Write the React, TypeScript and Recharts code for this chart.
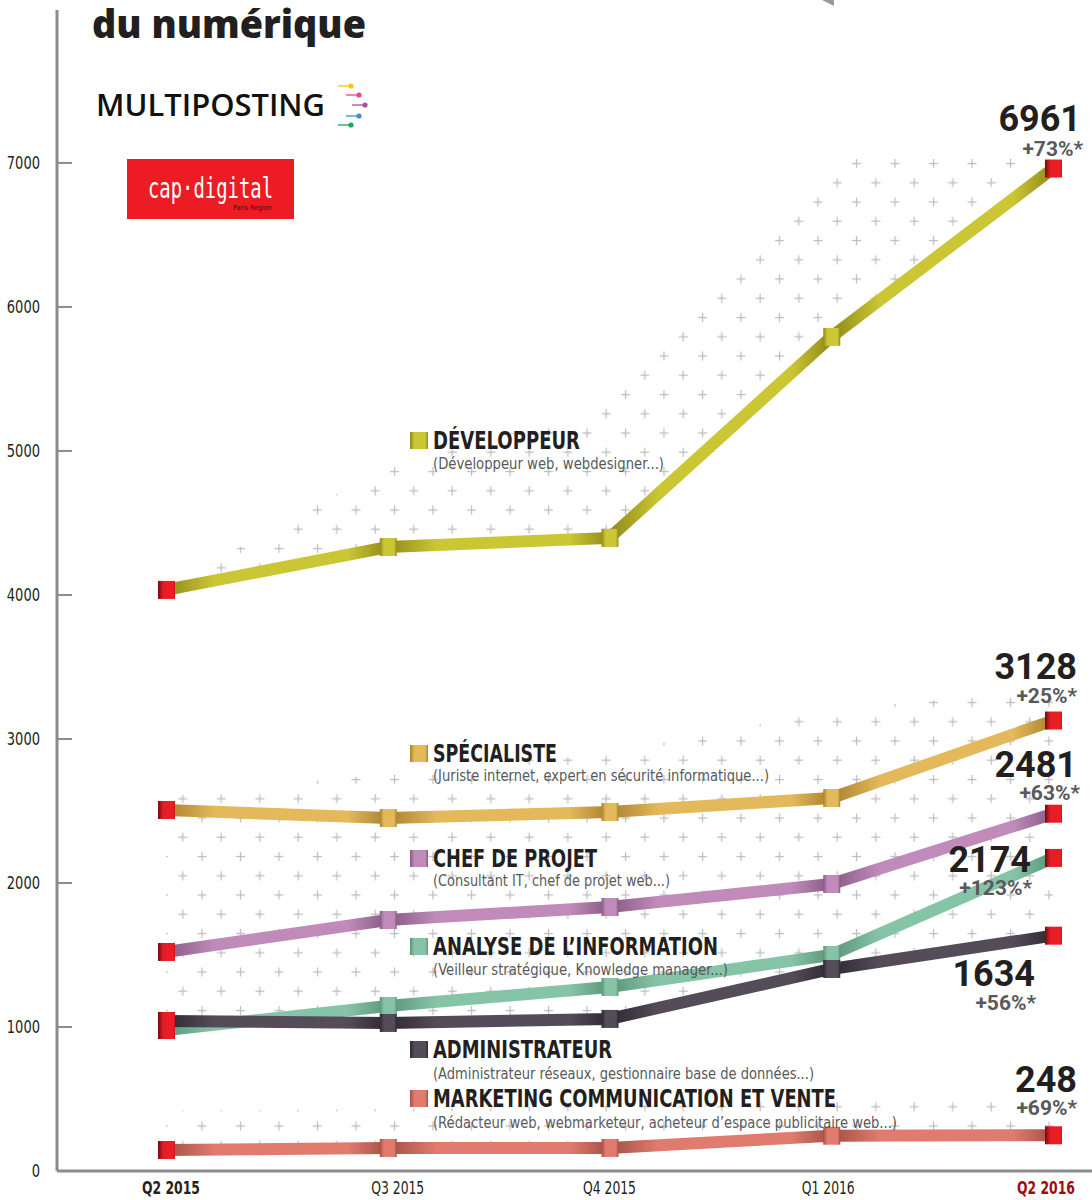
import React from 'react';
import { ComposedChart, Line, Area, XAxis, YAxis, LabelList } from 'recharts';

// ---------- data ----------
const quarters = ['Q2 2015', 'Q3 2015', 'Q4 2015', 'Q1 2016', 'Q2 2016'];
const developpeur = [4035, 4333, 4396, 5792, 6961];
const specialiste = [2507, 2451, 2493, 2590, 3128];
const chefDeProjet = [1521, 1743, 1833, 1993, 2481];
const analyseInfo = [979, 1146, 1278, 1500, 2174];
const administrateur = [1042, 1028, 1056, 1403, 1634];
const marketing = [146, 160, 160, 245, 248];
const variations = ['+73%*', '+25%*', '+63%*', '+123%*', '+56%*', '+69%*'];
const yTicks = [0, 1000, 2000, 3000, 4000, 5000, 6000, 7000];
// decorative dotted zones (edges)
const devZoneTop = [4050, 4900, 5300, 7050, 7050];
const upperZoneTop = [2600, 2760, 2900, 3200, 3350];
const bottomZoneTop = [420, 430, 450, 520, 520];

const data = quarters.map((q, i) => ({
  quarter: q,
  dev: developpeur[i],
  spec: specialiste[i],
  chef: chefDeProjet[i],
  ana: analyseInfo[i],
  adm: administrateur[i],
  mkt: marketing[i],
  devZone: [developpeur[i], devZoneTop[i]],
  upZone: [administrateur[i], upperZoneTop[i]],
  botZone: [marketing[i], bottomZoneTop[i]],
}));

type S = {
  key: string; title: string; sub: string; color: string; dark: string;
  var: string; ndx: number; ndy: number; pdx: number; pdy: number;
  titleY: number; subY: number; titleW: number; subW: number;
};

const series: S[] = [
  { key: 'dev', title: 'DÉVELOPPEUR', sub: '(Développeur web, webdesigner...)', color: '#cbc634', dark: '#8f8a1a', var: variations[0], ndx: 28, ndy: -38, pdx: 30, pdy: -13, titleY: 449, subY: 469, titleW: 147, subW: 231 },
  { key: 'spec', title: 'SPÉCIALISTE', sub: '(Juriste internet, expert en sécurité informatique...)', color: '#e3b95b', dark: '#a9812e', var: variations[1], ndx: 24, ndy: -42, pdx: 24, pdy: -18, titleY: 762, subY: 781, titleW: 124, subW: 336 },
  { key: 'chef', title: 'CHEF DE PROJET', sub: '(Consultant IT, chef de projet web...)', color: '#c08bbb', dark: '#875a83', var: variations[2], ndx: 24, ndy: -37, pdx: 27, pdy: -14, titleY: 867, subY: 886, titleW: 164, subW: 237 },
  { key: 'ana', title: 'ANALYSE DE L’INFORMATION', sub: '(Veilleur stratégique, Knowledge manager...)', color: '#86c4a7', dark: '#5a9479', var: variations[3], ndx: -22, ndy: 14, pdx: -21, pdy: 37, titleY: 955, subY: 975, titleW: 285, subW: 295 },
  { key: 'adm', title: 'ADMINISTRATEUR', sub: '(Administrateur réseaux, gestionnaire base de données...)', color: '#544c58', dark: '#2e2831', var: variations[4], ndx: -18, ndy: 50, pdx: -17, pdy: 74, titleY: 1058, subY: 1079, titleW: 179, subW: 381 },
  { key: 'mkt', title: 'MARKETING COMMUNICATION ET VENTE', sub: '(Rédacteur web, webmarketeur,  acheteur d’espace publicitaire web...)', color: '#e17b6e', dark: '#a24f45', var: variations[5], ndx: 24, ndy: -43, pdx: 24, pdy: -20, titleY: 1107, subY: 1128, titleW: 403, subW: 464 },
];

const NARROW = "'Liberation Sans Narrow', 'DejaVu Sans Condensed', 'Roboto', sans-serif";
const AXIS = '#8c8c8e';
const xTickShift = [5, 10, 0, -3, -7];

const YTick = (props: any) => {
  const { x, y, payload } = props;
  const label = String(payload.value);
  return (
    <g>
      <line x1={x} x2={x + 15} y1={y} y2={y} stroke={AXIS} strokeWidth={2} />
      <text x={x - 17} y={y + 6} textAnchor="end" fontFamily={NARROW} fontSize={17} fill="#231f20"
        textLength={label.length * 8.3} lengthAdjust="spacingAndGlyphs">
        {label}
      </text>
    </g>
  );
};

const XTick = (props: any) => {
  const { x, y, payload, index } = props;
  const first = index === 0;
  const last = index === quarters.length - 1;
  const bold = first || last;
  return (
    <text x={x + (xTickShift[index] || 0)} y={y + 23} textAnchor="middle" fontFamily={NARROW} fontSize={17}
      fontWeight={bold ? 700 : 400} fill={last ? '#9d0b0f' : '#231f20'}
      textLength={bold ? 58 : 53} lengthAdjust="spacingAndGlyphs">
      {payload.value}
    </text>
  );
};

const makeDot = (s: S) => (props: any) => {
  const { cx, cy, index } = props;
  const red = index === 0 || index === quarters.length - 1;
  return (
    <rect key={`${s.key}-dot-${index}`} x={cx - 8} y={cy - 9} width={17} height={18}
      fill={red ? 'url(#mk-red)' : `url(#mk-${s.key})`} />
  );
};

const makeEndLabel = (s: S) => (props: any) => {
  const { x, y, index } = props;
  if (index !== quarters.length - 1) return null;
  return (
    <g key={`${s.key}-lbl`}>
      <text x={x + s.ndx} y={y + s.ndy} textAnchor="end" fontFamily="Roboto, sans-serif"
        fontWeight={700} fontSize={36} fill="#231f20">{props.value}</text>
      <text x={x + s.pdx} y={y + s.pdy} textAnchor="end" fontFamily="Roboto, sans-serif"
        fontWeight={700} fontSize={21} fill="#58595b">{s.var}</text>
    </g>
  );
};

export default function App() {
  return (
    <div style={{ position: 'absolute', left: 0, top: 0, width: 1092, height: 1200, background: '#fff' }}>
      <ComposedChart width={1092} height={1200} data={data}
        margin={{ top: 10, right: 0, bottom: 0, left: 0 }}>
        <defs>
          <pattern id="plus" width={38.5} height={38.5} patternUnits="userSpaceOnUse">
            <path d="M5 9.5h9M9.5 5v9M24.25 28.75h9M28.75 24.25v9" stroke="#bcbcbe" strokeWidth={1.2} fill="none" />
          </pattern>
          <linearGradient id="mk-red" x1="0" x2="1" y1="0" y2="0">
            <stop offset="0" stopColor="#6e0a0d" />
            <stop offset="0.3" stopColor="#e41e26" />
            <stop offset="0.9" stopColor="#ee1c25" />
            <stop offset="1" stopColor="#c4161d" />
          </linearGradient>
          {series.map((s) => (
            <React.Fragment key={s.key}>
              <linearGradient id={`ln-${s.key}`} x1="0" x2="0.25" y1="0" y2="0" spreadMethod="repeat">
                <stop offset="0" stopColor={s.dark} />
                <stop offset="0.22" stopColor={s.color} />
                <stop offset="0.82" stopColor={s.color} />
                <stop offset="1" stopColor={s.dark} />
              </linearGradient>
              <linearGradient id={`mk-${s.key}`} x1="0" x2="1" y1="0" y2="0">
                <stop offset="0" stopColor={s.dark} />
                <stop offset="0.25" stopColor={s.color} />
                <stop offset="0.85" stopColor={s.color} />
                <stop offset="1" stopColor={s.dark} />
              </linearGradient>
            </React.Fragment>
          ))}
        </defs>
        <XAxis dataKey="quarter" interval={0} padding={{ left: 109, right: 39 }} height={29}
          tickSize={0} tickMargin={0} tickLine={false} tick={<XTick />}
          axisLine={{ stroke: AXIS, strokeWidth: 3 }} />
        <YAxis width={57} domain={[0, 8062]} ticks={yTicks} tickSize={0} tickMargin={0}
          tickLine={false} tick={<YTick />} axisLine={{ stroke: AXIS, strokeWidth: 3 }} />
        <Area dataKey="devZone" type="linear" stroke="none" fill="url(#plus)" fillOpacity={1} isAnimationActive={false} dot={false} activeDot={false} />
        <Area dataKey="upZone" type="linear" stroke="none" fill="url(#plus)" fillOpacity={1} isAnimationActive={false} dot={false} activeDot={false} />
        <Area dataKey="botZone" type="linear" stroke="none" fill="url(#plus)" fillOpacity={1} isAnimationActive={false} dot={false} activeDot={false} />
        {series.map((s) => (
          <Line key={s.key} dataKey={s.key} type="linear" stroke={`url(#ln-${s.key})`} strokeWidth={12}
            isAnimationActive={false} dot={makeDot(s)} activeDot={false}>
            <LabelList dataKey={s.key} content={makeEndLabel(s)} />
          </Line>
        ))}
      </ComposedChart>

      <svg width={1092} height={1200} style={{ position: 'absolute', left: 0, top: 0, pointerEvents: 'none' }}>
        <polygon points="822,0 834,0 834,6" fill="#9a9a9c" />
        <text x={92} y={38} fontFamily="'Open Sans', sans-serif" fontWeight={800} fontSize={39}
          fill="#231f20" textLength={274} lengthAdjust="spacingAndGlyphs">du numérique</text>
        {/* MULTIPOSTING logo */}
        <text x={96} y={116} fontFamily="'Open Sans', sans-serif" fontWeight={600} fontSize={31}
          fill="#111" textLength={229} lengthAdjust="spacingAndGlyphs">MULTIPOSTING</text>
        {[
          ['#f7c600', 338, 86], ['#e8458f', 346, 95], ['#a9509f', 352, 105], ['#3f8fcc', 346, 116], ['#1da56b', 338, 125],
        ].map(([c, x, y], i) => (
          <g key={i}>
            <line x1={x as number} x2={(x as number) + 13} y1={y as number} y2={y as number} stroke={c as string} strokeWidth={1.3} />
            <circle cx={(x as number) + 13} cy={y as number} r={2.6} fill={c as string} />
          </g>
        ))}
        {/* cap digital logo */}
        <rect x={127} y={159} width={167} height={60} fill="#ed1c24" />
        <text x={148} y={198} fontFamily="'DejaVu Sans Mono', monospace" fontWeight={400} fontSize={28}
          fill="#fff" textLength={125} lengthAdjust="spacingAndGlyphs">cap·digital</text>
        <text x={233} y={210} fontFamily={NARROW} fontSize={7} fill="#3a1010">Paris Region</text>
        {/* legend labels */}
        {series.map((s) => (
          <g key={s.key}>
            <rect x={410} y={s.titleY - 17} width={18} height={17} fill={`url(#mk-${s.key})`} />
            <text x={433} y={s.titleY} fontFamily={NARROW} fontWeight={700} fontSize={25} fill="#231f20"
              textLength={s.titleW} lengthAdjust="spacingAndGlyphs">{s.title}</text>
            <text x={433} y={s.subY} fontFamily={NARROW} fontSize={16} fill="#58595b"
              textLength={s.subW} lengthAdjust="spacingAndGlyphs">{s.sub}</text>
          </g>
        ))}
      </svg>
    </div>
  );
}
